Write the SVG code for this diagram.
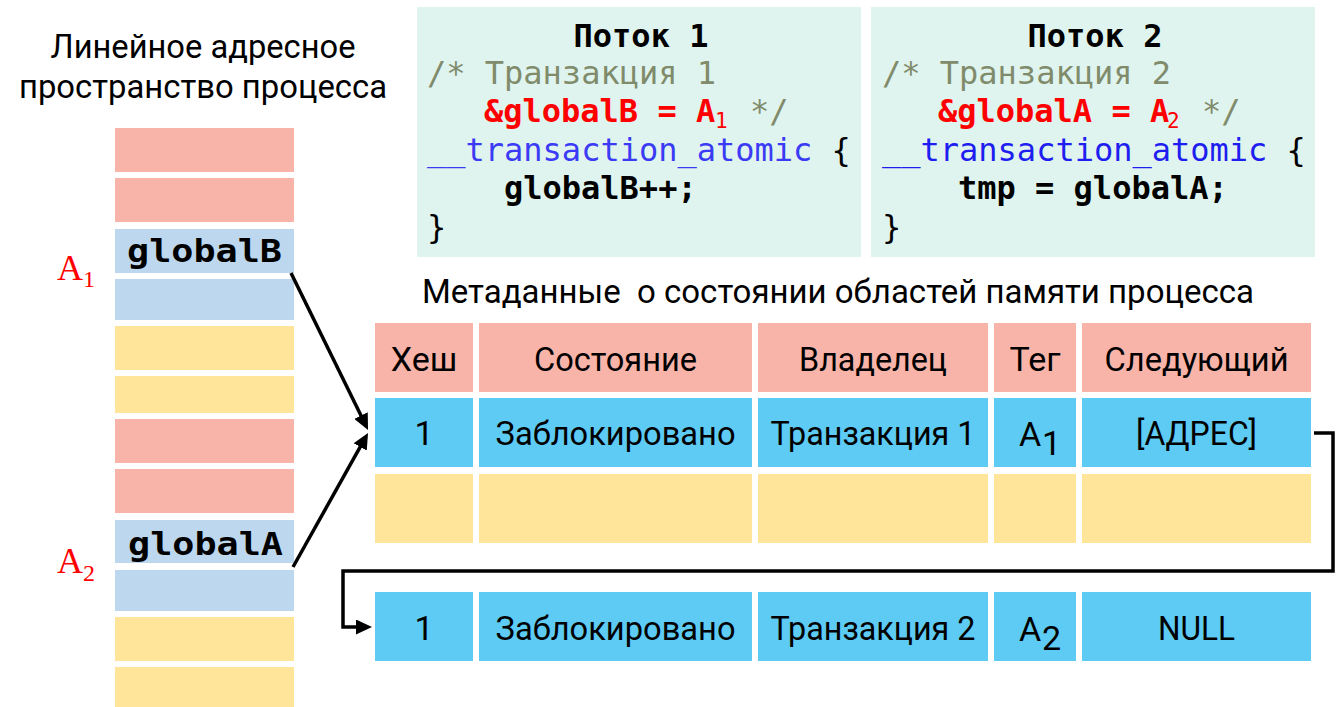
<svg xmlns="http://www.w3.org/2000/svg" width="1337" height="707" viewBox="0 0 1337 707">
<defs>
<style>
.pk{fill:#F8B4A8}.lb{fill:#BDD7EE}.yl{fill:#FFE599}.cy{fill:#5DCBF3}.mint{fill:#DFF4EE}
.ui{font-family:Roboto,"Liberation Sans",sans-serif;font-size:34px;fill:#000}
.c{text-anchor:middle}
.mono{font-family:"DejaVu Sans Mono","Liberation Mono",monospace;font-size:32px}
.b{font-weight:bold}
.sub{font-size:21px}
.ser{font-family:"Liberation Serif",serif;fill:#FF0000}
.con{fill:none;stroke:#000;stroke-width:3.5}
</style>
<marker id="ah" markerWidth="16" markerHeight="15" refX="10" refY="7.5" orient="auto" markerUnits="userSpaceOnUse"><path d="M0,0 L16,7.5 L0,15 z" fill="#000"/></marker>
</defs>
<rect width="1337" height="707" fill="#fff"/>

<g id="title-left">
<text class="ui c" x="203" y="58" textLength="305" lengthAdjust="spacingAndGlyphs">Линейное адресное</text>
<text class="ui c" x="203" y="98" textLength="368" lengthAdjust="spacingAndGlyphs">пространство процесса</text>
</g>

<g id="memory">
<rect class="pk" x="115" y="128" width="179" height="44"/>
<rect class="pk" x="115" y="178" width="179" height="44"/>
<rect class="lb" x="115" y="229" width="179" height="44"/>
<rect class="lb" x="115" y="279" width="179" height="41"/>
<rect class="yl" x="115" y="326" width="179" height="44"/>
<rect class="yl" x="115" y="376" width="179" height="37"/>
<rect class="pk" x="115" y="419" width="179" height="44"/>
<rect class="pk" x="115" y="469" width="179" height="44"/>
<rect class="lb" x="115" y="520" width="179" height="43"/>
<rect class="lb" x="115" y="570" width="179" height="41"/>
<rect class="yl" x="115" y="617" width="179" height="44"/>
<rect class="yl" x="115" y="667" width="179" height="40"/>
</g>
<g id="globalB"><text class="mono b" x="127" y="262" font-size="31" textLength="155" lengthAdjust="spacingAndGlyphs">globalB</text></g>
<g id="globalA"><text class="mono b" x="128" y="555" font-size="31" textLength="155" lengthAdjust="spacingAndGlyphs">globalA</text></g>
<g id="labelA1"><text class="ser" x="57" y="280" font-size="36">A</text><text class="ser" x="83" y="287" font-size="24">1</text></g>
<g id="labelA2"><text class="ser" x="57" y="573" font-size="36">A</text><text class="ser" x="83" y="581" font-size="24">2</text></g>

<g id="thread1">
<rect class="mint" x="417" y="7" width="444" height="250"/>
<text class="mono b c" x="641" y="47">Поток 1</text>
<text class="mono" x="427" y="84" fill="#7F8B6B">/* Транзакция 1</text>
<text class="mono" x="484" y="122"><tspan fill="#FF0000" font-weight="bold">&amp;globalB = A</tspan><tspan class="sub" x="715" y="128" fill="#FF0000">1</tspan><tspan x="750" y="122" fill="#7F8B6B">*/</tspan></text>
<text class="mono" x="427" y="161"><tspan fill="#3B3BF5">__transaction_atomic</tspan><tspan fill="#000"> {</tspan></text>
<text class="mono b" x="504" y="199">globalB++;</text>
<text class="mono" x="427" y="238">}</text>
</g>

<g id="thread2">
<rect class="mint" x="871" y="7" width="444" height="250"/>
<text class="mono b c" x="1095" y="47">Поток 2</text>
<text class="mono" x="882" y="84" fill="#7F8B6B">/* Транзакция 2</text>
<text class="mono" x="938" y="122"><tspan fill="#FF0000" font-weight="bold">&amp;globalA = A</tspan><tspan class="sub" x="1167" y="128" fill="#FF0000">2</tspan><tspan x="1202" y="122" fill="#7F8B6B">*/</tspan></text>
<text class="mono" x="882" y="161"><tspan fill="#1E1EF0">__transaction_atomic</tspan><tspan fill="#000"> {</tspan></text>
<text class="mono b" x="958" y="199">tmp = globalA;</text>
<text class="mono" x="882" y="238">}</text>
</g>

<g id="table-title">
<text class="ui" x="422" y="303" textLength="832" lengthAdjust="spacingAndGlyphs">Метаданные&#160; о состоянии областей памяти процесса</text>
</g>

<g id="table-header">
<rect class="pk" x="375" y="323" width="98" height="69"/>
<rect class="pk" x="479" y="323" width="273" height="69"/>
<rect class="pk" x="758" y="323" width="230" height="69"/>
<rect class="pk" x="994" y="323" width="82" height="69"/>
<rect class="pk" x="1082" y="323" width="229" height="69"/>
<text class="ui c" x="424" y="371">Хеш</text>
<text class="ui c" x="615.5" y="371" textLength="163" lengthAdjust="spacingAndGlyphs">Состояние</text>
<text class="ui c" x="873" y="371" textLength="148" lengthAdjust="spacingAndGlyphs">Владелец</text>
<text class="ui c" x="1035" y="371">Тег</text>
<text class="ui c" x="1196.5" y="371" textLength="184" lengthAdjust="spacingAndGlyphs">Следующий</text>
</g>

<g id="table-row1">
<rect class="cy" x="375" y="398" width="98" height="69"/>
<rect class="cy" x="479" y="398" width="273" height="69"/>
<rect class="cy" x="758" y="398" width="230" height="69"/>
<rect class="cy" x="994" y="398" width="82" height="69"/>
<rect class="cy" x="1082" y="398" width="229" height="69"/>
<text class="ui c" x="424" y="445">1</text>
<text class="ui c" x="615.5" y="445" textLength="240" lengthAdjust="spacingAndGlyphs">Заблокировано</text>
<text class="ui c" x="873" y="445" textLength="205" lengthAdjust="spacingAndGlyphs">Транзакция 1</text>
<text class="ui" x="1019" y="446" font-size="37">A</text><text class="ui" x="1042" y="455" font-size="22">1</text>
<text class="ui c" x="1196.5" y="445" textLength="121" lengthAdjust="spacingAndGlyphs">[АДРЕС]</text>
</g>

<g id="table-row2">
<rect class="yl" x="375" y="474" width="98" height="69"/>
<rect class="yl" x="479" y="474" width="273" height="69"/>
<rect class="yl" x="758" y="474" width="230" height="69"/>
<rect class="yl" x="994" y="474" width="82" height="69"/>
<rect class="yl" x="1082" y="474" width="229" height="69"/>
</g>

<g id="table-row3">
<rect class="cy" x="375" y="592" width="98" height="69"/>
<rect class="cy" x="479" y="592" width="273" height="69"/>
<rect class="cy" x="758" y="592" width="230" height="69"/>
<rect class="cy" x="994" y="592" width="82" height="69"/>
<rect class="cy" x="1082" y="592" width="229" height="69"/>
<text class="ui c" x="424" y="640">1</text>
<text class="ui c" x="615.5" y="640" textLength="240" lengthAdjust="spacingAndGlyphs">Заблокировано</text>
<text class="ui c" x="873" y="640" textLength="205" lengthAdjust="spacingAndGlyphs">Транзакция 2</text>
<text class="ui" x="1019" y="641" font-size="37">A</text><text class="ui" x="1042" y="650" font-size="22">2</text>
<text class="ui c" x="1196.5" y="640" textLength="77" lengthAdjust="spacingAndGlyphs">NULL</text>
</g>

<g id="connectors">
<path class="con" d="M291,273 L365.4,424.6" marker-end="url(#ah)"/>
<path class="con" d="M293,567 L365.1,438.2" marker-end="url(#ah)"/>
<path class="con" d="M1314,433 H1333 V571 H343 V627 H366" marker-end="url(#ah)"/>
</g>
</svg>
